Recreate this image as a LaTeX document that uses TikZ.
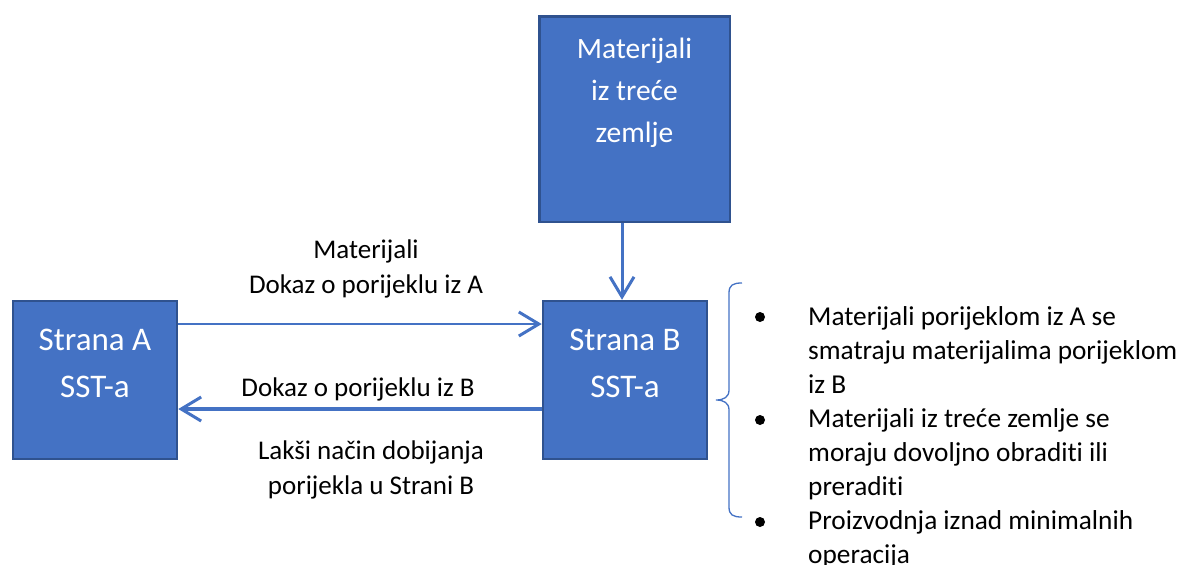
\documentclass[tikz,border=0pt]{standalone}
\usepackage{fontspec}
\setmainfont{Carlito}[Ligatures=NoCommon]
\usetikzlibrary{arrows.meta}
\definecolor{boxblue}{HTML}{4472C4}
\definecolor{boxedge}{HTML}{2F528F}
\begin{document}
\begin{tikzpicture}[x=1pt,y=-1pt,
  box/.style={draw=boxedge, fill=boxblue, line width=2.5pt, inner sep=0pt},
  boxtext/.style={text=white, align=center, inner sep=0pt, font=\fontsize{33}{47}\selectfont},
  toptext/.style={text=white, align=center, inner sep=0pt, font=\fontsize{29.5}{42}\selectfont},
  lbl/.style={align=center, inner sep=0pt, font=\fontsize{27}{35}\selectfont},
  bultext/.style={align=left, inner sep=0pt, anchor=north west, font=\fontsize{27.3}{34}\selectfont},
  bdot/.style={circle, fill=black, minimum size=10pt, inner sep=0pt},
  conn/.style={draw=boxblue, -{Straight Barb[length=20pt,width=24pt,line width=3pt]}},
  bracestyle/.style={draw=boxblue, line width=1.3pt}
]
\useasboundingbox (0,0) rectangle (1181,565);
% boxes
\node[box, minimum width=164pt, minimum height=158pt] (A) at (95,380) {};
\node[box, minimum width=164pt, minimum height=158pt] (B) at (625,380) {};
\node[box, minimum width=190.5pt, minimum height=205.5pt] (T) at (634.5,119) {};
\node[boxtext] (At) at (95,363) {Strana A\\SST-a};
\node[boxtext] (Bt) at (625,363) {Strana B\\SST-a};
\node[toptext] (Tt) at (634.5,93) {Materijali\\iz treće\\zemlje};
% connectors
\draw[conn, line width=2pt] (A.east |- 0,324) -- (B.west |- 0,324);
\draw[conn, line width=3.5pt] (B.west |- 0,409) -- (A.east |- 0,409);
\draw[conn, line width=3pt] (T.south -| 622,0) -- (B.north -| 622,0);
% labels
\node[lbl] (l1) at (366,269) {Materijali\\Dokaz o porijeklu iz A};
\node[lbl, anchor=base] (l2) at (358,396) {Dokaz o porijeklu iz B};
\node[lbl] (l3) at (371,470) {Lakši način dobijanja\\porijekla u Strani B};
% brace
\draw[bracestyle] (742,283) .. controls (733,283) and (729,285) .. (729,293) -- (729,390)
  .. controls (729,397) and (724,400) .. (716,400)
  .. controls (724,400) and (729,403) .. (729,410) -- (729,507)
  .. controls (729,515) and (733,517) .. (742,517);
% bullets
\node[bdot] (d1) at (760,317) {};
\node[bdot] (d2) at (760,420) {};
\node[bdot] (d3) at (760,522) {};
\node[bultext] (b1) at (808,306) {Materijali porijeklom iz A se\\smatraju materijalima porijeklom\\iz B};
\node[bultext] (b2) at (808,408) {Materijali iz treće zemlje se\\moraju dovoljno obraditi ili\\preraditi};
\node[bultext] (b3) at (808,510) {Proizvodnja iznad minimalnih\\operacija};
\end{tikzpicture}
\end{document}
